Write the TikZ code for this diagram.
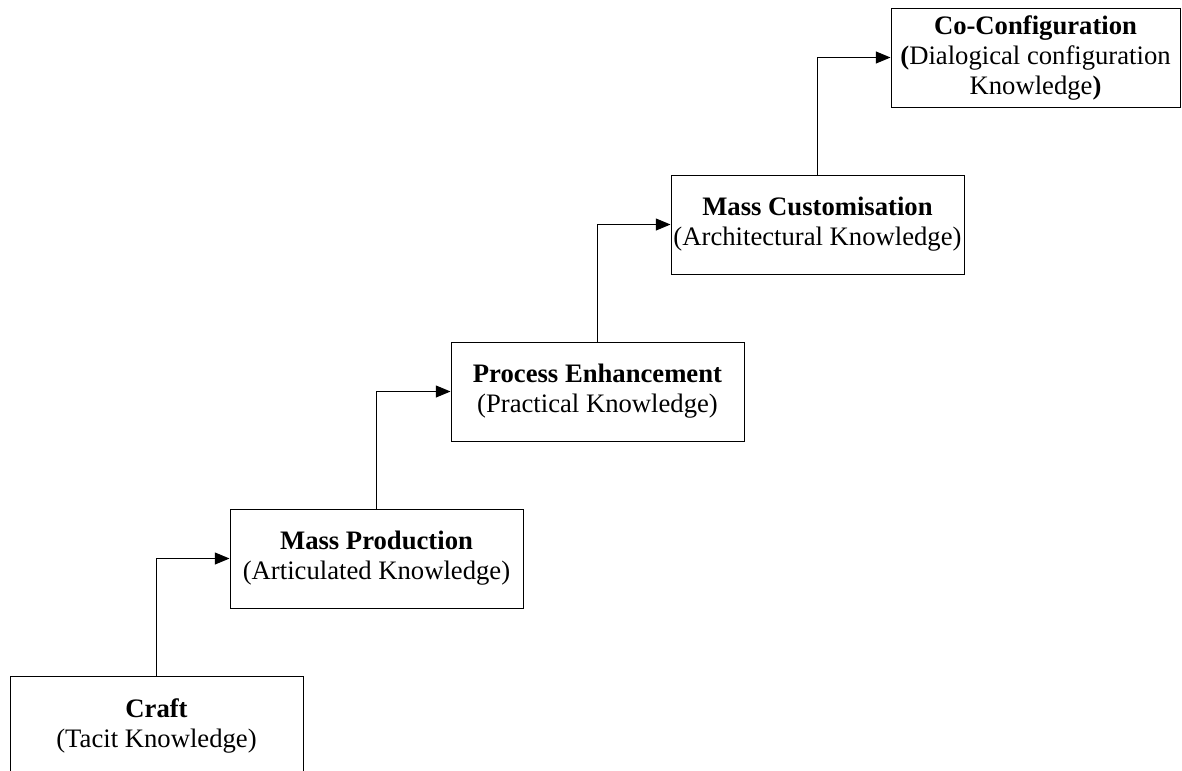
\documentclass[tikz,border=0pt]{standalone}
\usepackage{fontspec}
\setmainfont{Liberation Serif}
\usetikzlibrary{positioning, arrows.meta}

\begin{document}
\begin{tikzpicture}[x=0.75pt, y=-0.75pt]
	\tikzset{
		stage/.style={draw, line width=0.75pt, fill=white, align=center, inner sep=1pt,
			minimum width=219.75pt, minimum height=74.25pt,
			font=\fontsize{20}{22.5}\selectfont},
		flow/.style={line width=0.75pt, -{Triangle[length=11pt, width=9pt]}}
	}
	\useasboundingbox (0,0) rectangle (1182,771);
	\node[stage] (craft) at (156.5, 725.5) {\textbf{Craft}\\(Tacit Knowledge)};
	\node[stage] (mp) at (376.5, 558.5) {\textbf{Mass Production}\\(Articulated Knowledge)};
	\node[stage] (pe) at (597.5, 391.5) {\textbf{Process Enhancement}\\(Practical Knowledge)};
	\node[stage] (mc) at (817.5, 224.5) {\textbf{Mass Customisation}\\(Architectural Knowledge)};
	\node[stage, minimum width=216.75pt] (cc) at (1035.5, 57.5) {\textbf{Co-Configuration}\\\textbf{(}Dialogical configuration\\Knowledge\textbf{)}};
	\foreach \a/\b in {craft/mp, mp/pe, pe/mc, mc/cc}
		\draw[flow] (\a.north) |- (\b.west);
\end{tikzpicture}
\end{document}
